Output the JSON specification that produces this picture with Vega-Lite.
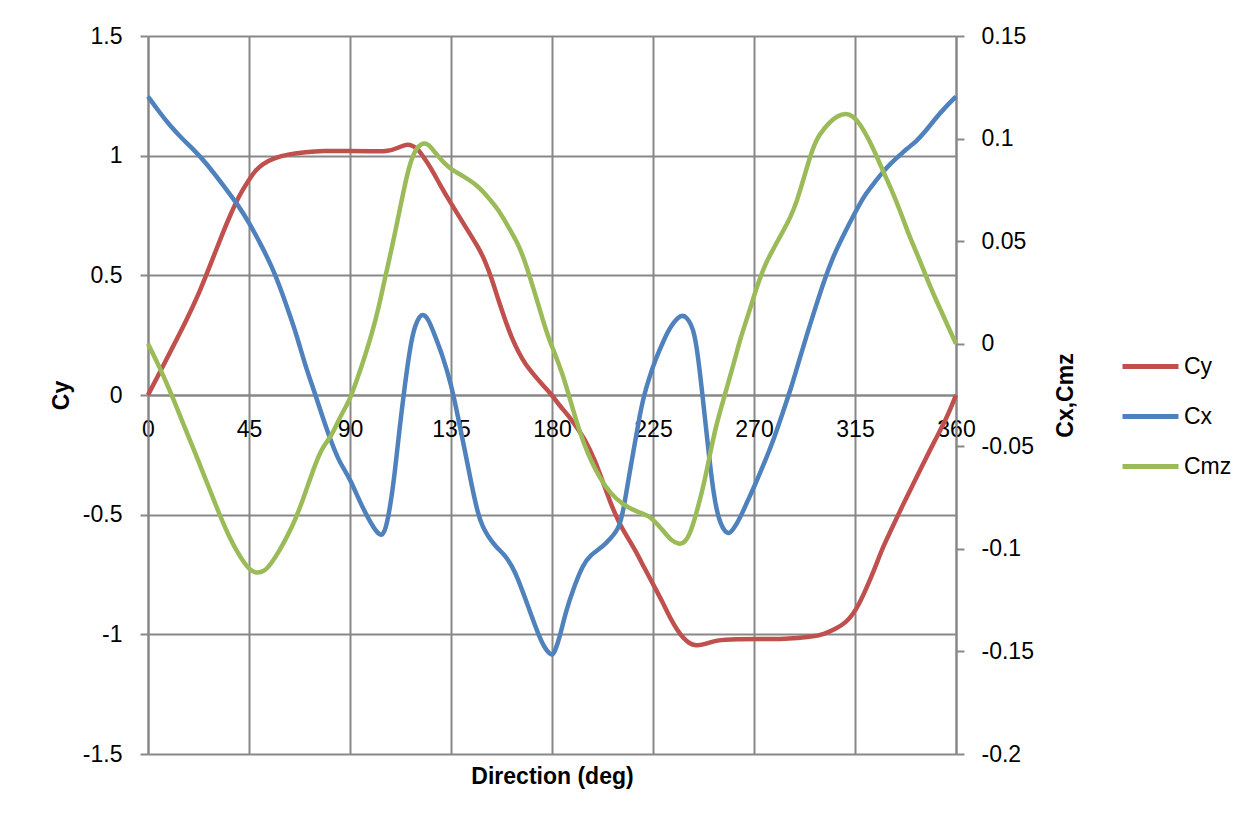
{
  "$schema": "https://vega.github.io/schema/vega-lite/v6.json",
  "width": 808,
  "height": 718,
  "autosize": {"type": "none"},
  "padding": {"left": 148, "top": 36, "right": 296, "bottom": 66},
  "background": "white",
  "config": {
    "view": {"stroke": null},
    "font": "Liberation Sans",
    "axis": {"labelColor": "black", "titleColor": "black", "labelFontSize": 23, "titleFontSize": 23, "titleFontWeight": "bold", "domainColor": "#888888", "domainWidth": 2, "tickColor": "#888888", "tickWidth": 2, "gridColor": "#888888", "gridWidth": 2, "gridOpacity": 1}
  },
  "data": {
    "values": [
      {"d": 0, "s": "Cy", "v": 0}, {"d": 5, "s": "Cy", "v": 0.09}, {"d": 11, "s": "Cy", "v": 0.2}, {"d": 17, "s": "Cy", "v": 0.31}, {"d": 23, "s": "Cy", "v": 0.43}, {"d": 28, "s": "Cy", "v": 0.55}, {"d": 33, "s": "Cy", "v": 0.67}, {"d": 37, "s": "Cy", "v": 0.76}, {"d": 41, "s": "Cy", "v": 0.84}, {"d": 45, "s": "Cy", "v": 0.9}, {"d": 48, "s": "Cy", "v": 0.94}, {"d": 51, "s": "Cy", "v": 0.965}, {"d": 56, "s": "Cy", "v": 0.99}, {"d": 63, "s": "Cy", "v": 1.007}, {"d": 70, "s": "Cy", "v": 1.015}, {"d": 78, "s": "Cy", "v": 1.02}, {"d": 90, "s": "Cy", "v": 1.02}, {"d": 100, "s": "Cy", "v": 1.018}, {"d": 107, "s": "Cy", "v": 1.017}, {"d": 112, "s": "Cy", "v": 1.035}, {"d": 115, "s": "Cy", "v": 1.048}, {"d": 118, "s": "Cy", "v": 1.042}, {"d": 120.5, "s": "Cy", "v": 1.026}, {"d": 123, "s": "Cy", "v": 0.99}, {"d": 126, "s": "Cy", "v": 0.95}, {"d": 130, "s": "Cy", "v": 0.88}, {"d": 135, "s": "Cy", "v": 0.8}, {"d": 141, "s": "Cy", "v": 0.71}, {"d": 147, "s": "Cy", "v": 0.62}, {"d": 150, "s": "Cy", "v": 0.565}, {"d": 153, "s": "Cy", "v": 0.49}, {"d": 156, "s": "Cy", "v": 0.4}, {"d": 159, "s": "Cy", "v": 0.317}, {"d": 162, "s": "Cy", "v": 0.24}, {"d": 165, "s": "Cy", "v": 0.18}, {"d": 168, "s": "Cy", "v": 0.13}, {"d": 172, "s": "Cy", "v": 0.084}, {"d": 176, "s": "Cy", "v": 0.04}, {"d": 180, "s": "Cy", "v": 0}, {"d": 183, "s": "Cy", "v": -0.04}, {"d": 187.7, "s": "Cy", "v": -0.09}, {"d": 191, "s": "Cy", "v": -0.135}, {"d": 195, "s": "Cy", "v": -0.19}, {"d": 199, "s": "Cy", "v": -0.27}, {"d": 202.6, "s": "Cy", "v": -0.36}, {"d": 206, "s": "Cy", "v": -0.45}, {"d": 210, "s": "Cy", "v": -0.538}, {"d": 214, "s": "Cy", "v": -0.6}, {"d": 217.5, "s": "Cy", "v": -0.655}, {"d": 221, "s": "Cy", "v": -0.72}, {"d": 225, "s": "Cy", "v": -0.79}, {"d": 229, "s": "Cy", "v": -0.86}, {"d": 232.5, "s": "Cy", "v": -0.93}, {"d": 236, "s": "Cy", "v": -0.985}, {"d": 238.4, "s": "Cy", "v": -1.015}, {"d": 241, "s": "Cy", "v": -1.037}, {"d": 244, "s": "Cy", "v": -1.048}, {"d": 248, "s": "Cy", "v": -1.042}, {"d": 253, "s": "Cy", "v": -1.024}, {"d": 262, "s": "Cy", "v": -1.02}, {"d": 274, "s": "Cy", "v": -1.02}, {"d": 283, "s": "Cy", "v": -1.02}, {"d": 296, "s": "Cy", "v": -1.01}, {"d": 301, "s": "Cy", "v": -1.0}, {"d": 306.7, "s": "Cy", "v": -0.976}, {"d": 311, "s": "Cy", "v": -0.95}, {"d": 314, "s": "Cy", "v": -0.918}, {"d": 317, "s": "Cy", "v": -0.87}, {"d": 320, "s": "Cy", "v": -0.81}, {"d": 324, "s": "Cy", "v": -0.72}, {"d": 327.4, "s": "Cy", "v": -0.636}, {"d": 332, "s": "Cy", "v": -0.545}, {"d": 336.3, "s": "Cy", "v": -0.46}, {"d": 341, "s": "Cy", "v": -0.37}, {"d": 345, "s": "Cy", "v": -0.295}, {"d": 350, "s": "Cy", "v": -0.2}, {"d": 354, "s": "Cy", "v": -0.13}, {"d": 357, "s": "Cy", "v": -0.07}, {"d": 360, "s": "Cy", "v": 0},

      {"d": 0, "s": "Cx", "v": 0.1205}, {"d": 5, "s": "Cx", "v": 0.113}, {"d": 10, "s": "Cx", "v": 0.106}, {"d": 15.5, "s": "Cx", "v": 0.0996}, {"d": 20, "s": "Cx", "v": 0.095}, {"d": 26, "s": "Cx", "v": 0.088}, {"d": 33, "s": "Cx", "v": 0.078}, {"d": 40.7, "s": "Cx", "v": 0.0667}, {"d": 45, "s": "Cx", "v": 0.059}, {"d": 50, "s": "Cx", "v": 0.049}, {"d": 55.5, "s": "Cx", "v": 0.037}, {"d": 60, "s": "Cx", "v": 0.024}, {"d": 63, "s": "Cx", "v": 0.0145}, {"d": 66, "s": "Cx", "v": 0.005}, {"d": 70, "s": "Cx", "v": -0.0104}, {"d": 74, "s": "Cx", "v": -0.023}, {"d": 77.7, "s": "Cx", "v": -0.0354}, {"d": 81, "s": "Cx", "v": -0.046}, {"d": 85, "s": "Cx", "v": -0.057}, {"d": 87.8, "s": "Cx", "v": -0.062}, {"d": 90, "s": "Cx", "v": -0.066}, {"d": 95, "s": "Cx", "v": -0.0785}, {"d": 99, "s": "Cx", "v": -0.087}, {"d": 102.6, "s": "Cx", "v": -0.093}, {"d": 104.5, "s": "Cx", "v": -0.0935}, {"d": 106, "s": "Cx", "v": -0.09}, {"d": 108, "s": "Cx", "v": -0.079}, {"d": 110, "s": "Cx", "v": -0.0626}, {"d": 112, "s": "Cx", "v": -0.042}, {"d": 114.5, "s": "Cx", "v": -0.0195}, {"d": 117, "s": "Cx", "v": 0.0}, {"d": 119, "s": "Cx", "v": 0.009}, {"d": 121, "s": "Cx", "v": 0.0135}, {"d": 122.6, "s": "Cx", "v": 0.0145}, {"d": 125, "s": "Cx", "v": 0.012}, {"d": 127.8, "s": "Cx", "v": 0.004}, {"d": 131, "s": "Cx", "v": -0.005}, {"d": 135, "s": "Cx", "v": -0.0195}, {"d": 138, "s": "Cx", "v": -0.035}, {"d": 141, "s": "Cx", "v": -0.051}, {"d": 144, "s": "Cx", "v": -0.068}, {"d": 147, "s": "Cx", "v": -0.083}, {"d": 149, "s": "Cx", "v": -0.089}, {"d": 151.5, "s": "Cx", "v": -0.094}, {"d": 155, "s": "Cx", "v": -0.099}, {"d": 159, "s": "Cx", "v": -0.103}, {"d": 162, "s": "Cx", "v": -0.108}, {"d": 165, "s": "Cx", "v": -0.115}, {"d": 168, "s": "Cx", "v": -0.124}, {"d": 171, "s": "Cx", "v": -0.133}, {"d": 174, "s": "Cx", "v": -0.142}, {"d": 177, "s": "Cx", "v": -0.149}, {"d": 179.8, "s": "Cx", "v": -0.152}, {"d": 181, "s": "Cx", "v": -0.151}, {"d": 183.5, "s": "Cx", "v": -0.143}, {"d": 186, "s": "Cx", "v": -0.131}, {"d": 190, "s": "Cx", "v": -0.118}, {"d": 193.7, "s": "Cx", "v": -0.108}, {"d": 197, "s": "Cx", "v": -0.103}, {"d": 202.6, "s": "Cx", "v": -0.099}, {"d": 206, "s": "Cx", "v": -0.095}, {"d": 210, "s": "Cx", "v": -0.09}, {"d": 212, "s": "Cx", "v": -0.08}, {"d": 214.6, "s": "Cx", "v": -0.0626}, {"d": 217, "s": "Cx", "v": -0.048}, {"d": 219, "s": "Cx", "v": -0.0354}, {"d": 221, "s": "Cx", "v": -0.025}, {"d": 223.5, "s": "Cx", "v": -0.016}, {"d": 226, "s": "Cx", "v": -0.008}, {"d": 229.5, "s": "Cx", "v": 0.001}, {"d": 233, "s": "Cx", "v": 0.009}, {"d": 237.7, "s": "Cx", "v": 0.0145}, {"d": 240, "s": "Cx", "v": 0.013}, {"d": 243, "s": "Cx", "v": 0.0077}, {"d": 245, "s": "Cx", "v": -0.005}, {"d": 247.4, "s": "Cx", "v": -0.0286}, {"d": 249.5, "s": "Cx", "v": -0.05}, {"d": 252, "s": "Cx", "v": -0.074}, {"d": 254.5, "s": "Cx", "v": -0.087}, {"d": 257.8, "s": "Cx", "v": -0.093}, {"d": 260, "s": "Cx", "v": -0.092}, {"d": 263.8, "s": "Cx", "v": -0.085}, {"d": 267, "s": "Cx", "v": -0.077}, {"d": 270, "s": "Cx", "v": -0.07}, {"d": 275, "s": "Cx", "v": -0.057}, {"d": 279, "s": "Cx", "v": -0.046}, {"d": 283, "s": "Cx", "v": -0.033}, {"d": 287, "s": "Cx", "v": -0.02}, {"d": 290.4, "s": "Cx", "v": -0.007}, {"d": 294, "s": "Cx", "v": 0.006}, {"d": 297.8, "s": "Cx", "v": 0.019}, {"d": 301, "s": "Cx", "v": 0.03}, {"d": 305, "s": "Cx", "v": 0.0418}, {"d": 309, "s": "Cx", "v": 0.051}, {"d": 312.6, "s": "Cx", "v": 0.0588}, {"d": 316, "s": "Cx", "v": 0.066}, {"d": 320, "s": "Cx", "v": 0.0735}, {"d": 324, "s": "Cx", "v": 0.079}, {"d": 327.4, "s": "Cx", "v": 0.0837}, {"d": 331, "s": "Cx", "v": 0.088}, {"d": 334.8, "s": "Cx", "v": 0.0917}, {"d": 338, "s": "Cx", "v": 0.095}, {"d": 342.2, "s": "Cx", "v": 0.0985}, {"d": 346, "s": "Cx", "v": 0.103}, {"d": 351, "s": "Cx", "v": 0.11}, {"d": 355, "s": "Cx", "v": 0.115}, {"d": 360, "s": "Cx", "v": 0.1205},

      {"d": 0, "s": "Cmz", "v": 0}, {"d": 5, "s": "Cmz", "v": -0.011}, {"d": 11, "s": "Cmz", "v": -0.026}, {"d": 16, "s": "Cmz", "v": -0.04}, {"d": 21, "s": "Cmz", "v": -0.053}, {"d": 26, "s": "Cmz", "v": -0.067}, {"d": 31, "s": "Cmz", "v": -0.081}, {"d": 36, "s": "Cmz", "v": -0.094}, {"d": 41, "s": "Cmz", "v": -0.104}, {"d": 45, "s": "Cmz", "v": -0.11}, {"d": 48, "s": "Cmz", "v": -0.112}, {"d": 52, "s": "Cmz", "v": -0.111}, {"d": 55, "s": "Cmz", "v": -0.107}, {"d": 58.5, "s": "Cmz", "v": -0.101}, {"d": 62, "s": "Cmz", "v": -0.094}, {"d": 66, "s": "Cmz", "v": -0.085}, {"d": 70, "s": "Cmz", "v": -0.073}, {"d": 74.7, "s": "Cmz", "v": -0.058}, {"d": 78, "s": "Cmz", "v": -0.05}, {"d": 82, "s": "Cmz", "v": -0.0445}, {"d": 85, "s": "Cmz", "v": -0.037}, {"d": 88, "s": "Cmz", "v": -0.031}, {"d": 90, "s": "Cmz", "v": -0.027}, {"d": 93, "s": "Cmz", "v": -0.018}, {"d": 96.7, "s": "Cmz", "v": -0.006}, {"d": 100, "s": "Cmz", "v": 0.006}, {"d": 102.6, "s": "Cmz", "v": 0.0168}, {"d": 105, "s": "Cmz", "v": 0.029}, {"d": 108.5, "s": "Cmz", "v": 0.046}, {"d": 111, "s": "Cmz", "v": 0.059}, {"d": 114.5, "s": "Cmz", "v": 0.078}, {"d": 117, "s": "Cmz", "v": 0.089}, {"d": 119.7, "s": "Cmz", "v": 0.096}, {"d": 123.4, "s": "Cmz", "v": 0.0984}, {"d": 126, "s": "Cmz", "v": 0.096}, {"d": 129, "s": "Cmz", "v": 0.0917}, {"d": 132, "s": "Cmz", "v": 0.088}, {"d": 135, "s": "Cmz", "v": 0.085}, {"d": 140, "s": "Cmz", "v": 0.082}, {"d": 147, "s": "Cmz", "v": 0.077}, {"d": 151, "s": "Cmz", "v": 0.072}, {"d": 156, "s": "Cmz", "v": 0.0656}, {"d": 160, "s": "Cmz", "v": 0.058}, {"d": 165, "s": "Cmz", "v": 0.0486}, {"d": 168, "s": "Cmz", "v": 0.04}, {"d": 172, "s": "Cmz", "v": 0.026}, {"d": 175, "s": "Cmz", "v": 0.015}, {"d": 178, "s": "Cmz", "v": 0.004}, {"d": 181, "s": "Cmz", "v": -0.004}, {"d": 184.8, "s": "Cmz", "v": -0.015}, {"d": 188, "s": "Cmz", "v": -0.027}, {"d": 192, "s": "Cmz", "v": -0.042}, {"d": 196, "s": "Cmz", "v": -0.054}, {"d": 201, "s": "Cmz", "v": -0.065}, {"d": 206, "s": "Cmz", "v": -0.073}, {"d": 211.6, "s": "Cmz", "v": -0.0785}, {"d": 218, "s": "Cmz", "v": -0.082}, {"d": 223.5, "s": "Cmz", "v": -0.084}, {"d": 226, "s": "Cmz", "v": -0.087}, {"d": 229.5, "s": "Cmz", "v": -0.091}, {"d": 233, "s": "Cmz", "v": -0.096}, {"d": 237, "s": "Cmz", "v": -0.098}, {"d": 239, "s": "Cmz", "v": -0.097}, {"d": 241.4, "s": "Cmz", "v": -0.093}, {"d": 244, "s": "Cmz", "v": -0.084}, {"d": 247.4, "s": "Cmz", "v": -0.07}, {"d": 250, "s": "Cmz", "v": -0.056}, {"d": 253, "s": "Cmz", "v": -0.04}, {"d": 257, "s": "Cmz", "v": -0.025}, {"d": 260.8, "s": "Cmz", "v": -0.0104}, {"d": 264, "s": "Cmz", "v": 0.003}, {"d": 268, "s": "Cmz", "v": 0.016}, {"d": 271, "s": "Cmz", "v": 0.027}, {"d": 275, "s": "Cmz", "v": 0.039}, {"d": 279, "s": "Cmz", "v": 0.047}, {"d": 283, "s": "Cmz", "v": 0.055}, {"d": 286, "s": "Cmz", "v": 0.061}, {"d": 289, "s": "Cmz", "v": 0.069}, {"d": 292, "s": "Cmz", "v": 0.08}, {"d": 296, "s": "Cmz", "v": 0.095}, {"d": 299, "s": "Cmz", "v": 0.102}, {"d": 303.7, "s": "Cmz", "v": 0.108}, {"d": 307, "s": "Cmz", "v": 0.111}, {"d": 311, "s": "Cmz", "v": 0.1125}, {"d": 314, "s": "Cmz", "v": 0.111}, {"d": 317, "s": "Cmz", "v": 0.1076}, {"d": 321, "s": "Cmz", "v": 0.1}, {"d": 324.5, "s": "Cmz", "v": 0.0917}, {"d": 328, "s": "Cmz", "v": 0.083}, {"d": 331.9, "s": "Cmz", "v": 0.0735}, {"d": 335, "s": "Cmz", "v": 0.065}, {"d": 339, "s": "Cmz", "v": 0.053}, {"d": 343, "s": "Cmz", "v": 0.043}, {"d": 346.7, "s": "Cmz", "v": 0.0327}, {"d": 350, "s": "Cmz", "v": 0.024}, {"d": 354, "s": "Cmz", "v": 0.0145}, {"d": 357, "s": "Cmz", "v": 0.007}, {"d": 360, "s": "Cmz", "v": 0}
    ]
  },
  "encoding": {
    "x": {
      "field": "d", "type": "quantitative",
      "scale": {"domain": [0, 360], "nice": false, "zero": false},
      "axis": {
        "title": "Direction (deg)", "offset": -359,
        "values": [0, 45, 90, 135, 180, 225, 270, 315, 360],
        "ticks": false, "grid": true, "domain": true,
        "labelFlush": false, "labelOverlap": false, "labelPadding": 23,
        "titleX": 404, "titleY": 388, "titleBaseline": "alphabetic", "titleAlign": "center"
      }
    },
    "color": {
      "field": "s", "type": "nominal",
      "scale": {"domain": ["Cy", "Cx", "Cmz"], "range": ["#C0504D", "#4F81BD", "#9BBB59"]},
      "legend": {
        "title": null, "orient": "none", "legendX": 972, "legendY": 300,
        "padding": 0, "symbolType": "stroke", "symbolSize": 3136, "symbolStrokeWidth": 5,
        "labelFontSize": 23, "labelColor": "black", "labelOffset": 3, "rowPadding": 7
      }
    }
  },
  "layer": [
    {
      "transform": [{"filter": "datum.s === 'Cy'"}],
      "mark": {"type": "line", "strokeWidth": 4.5, "interpolate": "basis"},
      "encoding": {
        "y": {
          "field": "v", "type": "quantitative",
          "scale": {"domain": [-1.5, 1.5], "nice": false, "zero": false},
          "axis": {
            "orient": "left", "title": "Cy",
            "values": [-1.5, -1, -0.5, 0, 0.5, 1, 1.5],
            "labelExpr": "'' + datum.value",
            "tickSize": 8, "labelPadding": 18, "grid": true,
            "titleAngle": -90, "titleX": -87, "titleY": 359, "titleAlign": "center", "titleBaseline": "middle"
          }
        }
      }
    },
    {
      "transform": [{"filter": "datum.s !== 'Cy'"}],
      "mark": {"type": "line", "strokeWidth": 4.5, "interpolate": "basis"},
      "encoding": {
        "y": {
          "field": "v", "type": "quantitative",
          "scale": {"domain": [-0.2, 0.15], "nice": false, "zero": false},
          "axis": {
            "orient": "right", "title": "Cx,Cmz",
            "values": [-0.2, -0.15, -0.1, -0.05, 0, 0.05, 0.1, 0.15],
            "labelExpr": "'' + datum.value",
            "tickSize": 8, "labelPadding": 17, "grid": false,
            "titleAngle": -90, "titleX": 109, "titleY": 359, "titleAlign": "center", "titleBaseline": "middle"
          }
        }
      }
    }
  ],
  "resolve": {"scale": {"y": "independent"}}
}
